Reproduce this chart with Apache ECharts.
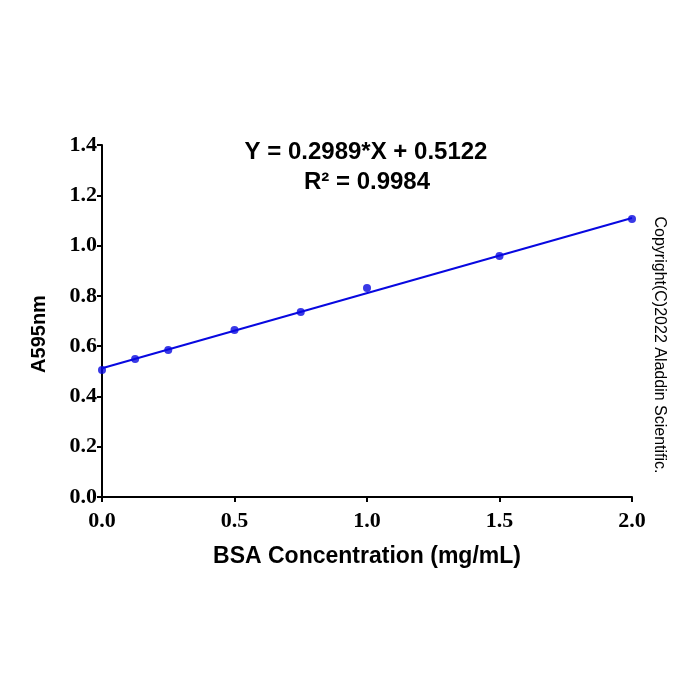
<!DOCTYPE html>
<html><head><meta charset="utf-8">
<script src="https://cdn.jsdelivr.net/npm/echarts@6/dist/echarts.min.js"></script>
<style>html,body{margin:0;padding:0;background:#fff}#c{width:700px;height:700px}</style>
</head><body><div id="c"></div>
<script>
var concX = [0, 0.125, 0.25, 0.5, 0.75, 1.0, 1.5, 2.0];
var absY = [0.505, 0.549, 0.585, 0.664, 0.736, 0.831, 0.959, 1.106];
var fitX = [0, 2.0];
var fitY = [0.5122, 1.1100];
var equationText = 'Y = 0.2989*X + 0.5122';
var r2Text = 'R² = 0.9984';
var yTitle = 'A595nm';
var xTitle = 'BSA Concentration (mg/mL)';
var copyrightText = 'Copyright(C)2022 Aladdin Scientific.';

var chart = echarts.init(document.getElementById('c'));
var blue = '#0808e0';
chart.setOption({
  animation: false,
  backgroundColor: '#fff',
  grid: {left: 102, right: 68, top: 145, bottom: 203},
  xAxis: {
    type: 'value', min: 0, max: 2.0, interval: 0.5,
    axisLine: {show: true, lineStyle: {color: '#000', width: 2}},
    axisTick: {show: true, length: 5, lineStyle: {color: '#000', width: 2}},
    axisLabel: {formatter: function(v){return v.toFixed(1);}, fontFamily: 'Liberation Serif', fontWeight: 'bold', fontSize: 22, color: '#000', margin: 13},
    splitLine: {show: false}
  },
  yAxis: {
    type: 'value', min: 0, max: 1.4, interval: 0.2,
    axisLine: {show: true, lineStyle: {color: '#000', width: 2}},
    axisTick: {show: true, length: 5, lineStyle: {color: '#000', width: 2}},
    axisLabel: {formatter: function(v){return v.toFixed(1);}, fontFamily: 'Liberation Serif', fontWeight: 'bold', fontSize: 22, color: '#000', margin: 5},
    splitLine: {show: false}
  },
  series: [
    {
      type: 'line', data: fitX.map(function(x,i){return [x, fitY[i]];}),
      showSymbol: false, lineStyle: {color: blue, width: 2}, z: 2
    },
    {
      type: 'scatter', data: concX.map(function(x,i){return [x, absY[i]];}),
      symbol: 'circle', symbolSize: 8, itemStyle: {color: blue}, z: 3
    }
  ],
  graphic: [
    {type: 'text', x: 366, y: 152, style: {text: equationText, fontFamily: 'Liberation Sans', fontWeight: 'bold', fontSize: 24, fill: '#000', textAlign: 'center', textVerticalAlign: 'middle'}},
    {type: 'text', x: 367, y: 182, style: {text: r2Text, fontFamily: 'Liberation Sans', fontWeight: 'bold', fontSize: 24, fill: '#000', textAlign: 'center', textVerticalAlign: 'middle'}},
    {type: 'text', x: 367, y: 557, style: {text: xTitle, fontFamily: 'Liberation Sans', fontWeight: 'bold', fontSize: 23, fill: '#000', textAlign: 'center', textVerticalAlign: 'middle'}},
    {type: 'text', x: 39, y: 334, rotation: Math.PI/2, style: {text: yTitle, fontFamily: 'Liberation Sans', fontWeight: 'bold', fontSize: 20, fill: '#000', textAlign: 'center', textVerticalAlign: 'middle'}},
    {type: 'text', x: 659, y: 345, rotation: -Math.PI/2, style: {text: copyrightText, fontFamily: 'Liberation Sans', fontSize: 16, fill: '#000', textAlign: 'center', textVerticalAlign: 'middle'}}
  ]
});
</script></body></html>
